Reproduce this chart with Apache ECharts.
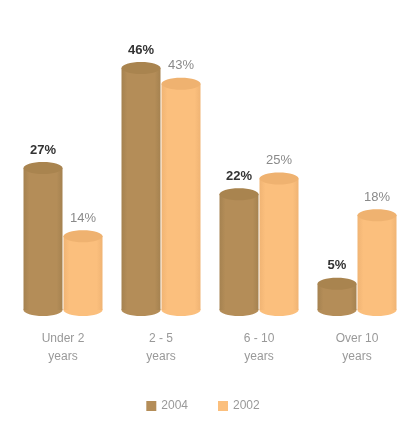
<!DOCTYPE html>
<html>
<head>
<meta charset="utf-8">
<script src="https://cdn.jsdelivr.net/npm/echarts@6/dist/echarts.min.js"></script>
<style>
  html, body { margin: 0; padding: 0; background: #fff; }
  #chart { width: 406px; height: 421px; }
</style>
</head>
<body>
<div id="chart"></div>
<script>
// data
var categories = ['Under 2\nyears', '2 - 5\nyears', '6 - 10\nyears', 'Over 10\nyears'];
var values2004 = [27, 46, 22, 5];
var values2002 = [14, 43, 25, 18];
var seriesNames = ['2004', '2002'];

var BAR_W = 39;
var RY = 6;

function cylinder(offset, body, top, edge, labelStyle) {
  return function (params, api) {
    var top_ = api.coord([api.value(0), api.value(1)]);
    var base = api.coord([api.value(0), 0]);
    var cx = top_[0] + offset;
    var x = cx - BAR_W / 2;
    return {
      type: 'group',
      children: [
        { type: 'ellipse', shape: { cx: cx, cy: base[1], rx: BAR_W / 2, ry: RY }, style: { fill: body } },
        { type: 'rect', shape: { x: x, y: top_[1], width: BAR_W, height: base[1] - top_[1] },
          style: { fill: new echarts.graphic.LinearGradient(0, 0, 1, 0, [
            { offset: 0, color: edge }, { offset: 0.15, color: body },
            { offset: 0.85, color: body }, { offset: 1, color: edge }]) } },
        { type: 'ellipse', shape: { cx: cx, cy: top_[1], rx: BAR_W / 2, ry: RY }, style: { fill: top } },
        { type: 'text', x: cx, y: top_[1] - 18,
          style: {
            text: api.value(1) + '%', align: 'center', verticalAlign: 'middle',
            fill: labelStyle.color, fontWeight: labelStyle.weight, fontSize: 13,
            fontFamily: 'Liberation Sans'
          } }
      ]
    };
  };
}

var myEcharts = echarts.init(document.getElementById('chart'));
var option = {
  animation: false,
  legend: {
    bottom: 4,
    left: 'center',
    itemWidth: 10,
    itemHeight: 10,
    itemGap: 30,
    icon: 'rect',
    textStyle: { color: '#999', fontSize: 12, fontFamily: 'Liberation Sans' },
    data: seriesNames
  },
  grid: { left: 14, right: 0, top: 68, bottom: 111 },
  xAxis: {
    type: 'category',
    data: categories,
    axisLine: { show: false },
    axisTick: { show: false },
    axisLabel: { color: '#999', fontSize: 12, fontFamily: 'Liberation Sans', lineHeight: 18, margin: 20 }
  },
  yAxis: { type: 'value', min: 0, max: 46, show: false },
  series: [
    {
      name: '2004', type: 'custom', color: '#b48d58',
      renderItem: cylinder(-BAR_W / 2 - 0.5, '#b48d58', '#a9844f', '#a58250', { color: '#333', weight: 'bold' }),
      encode: { x: 0, y: 1 },
      data: values2004.map(function (v, i) { return [i, v]; })
    },
    {
      name: '2002', type: 'custom', color: '#fbbf7d',
      renderItem: cylinder(BAR_W / 2 + 0.5, '#fbbf7d', '#efb270', '#f0b474', { color: '#8a8a8a', weight: 'normal' }),
      encode: { x: 0, y: 1 },
      data: values2002.map(function (v, i) { return [i, v]; })
    }
  ]
};
myEcharts.setOption(option);
</script>
</body>
</html>
